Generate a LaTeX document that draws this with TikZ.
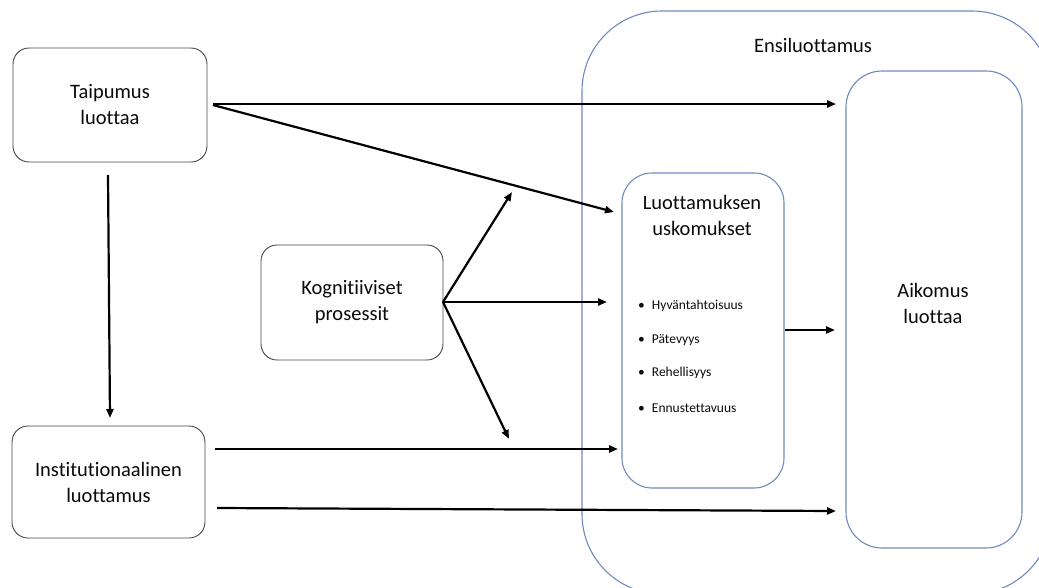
\documentclass[tikz,border=0pt]{standalone}
\usepackage{fontspec}
\setmainfont{Carlito}[Ligatures={NoCommon,NoRare,NoContextual}]
\usetikzlibrary{arrows.meta,calc}
\definecolor{boxblue}{RGB}{110,138,190}
\definecolor{boxgray}{RGB}{70,70,70}
\definecolor{txt}{RGB}{10,10,10}
\begin{document}
\begin{tikzpicture}[x=1pt,y=-1pt,
  graybox/.style={draw=boxgray,line width=0.9pt,rounded corners=16pt,fill=white,inner sep=0pt},
  bluebox/.style={draw=boxblue,line width=1.1pt,inner sep=0pt},
  bigtxt/.style={font=\fontsize{20.5}{26}\selectfont,text=txt,align=center},
  smalltxt/.style={font=\fontsize{13.5}{16}\selectfont,text=txt,anchor=west,inner sep=0pt},
  arr/.style={line width=2.2pt,-{Triangle[length=9pt,width=7pt]}}]
\useasboundingbox (0,0) rectangle (1039,587);
\clip (0,0) rectangle (1039,587);
% outer box
\draw[boxblue,line width=1.1pt,rounded corners=80pt] (582,11) rectangle (1052,594);
\node[bigtxt] (ensi) at (813,45) {Ensiluottamus};
% boxes
\node[graybox,minimum width=194pt,minimum height=114pt] (taip) at (110,105) {};
\node[bigtxt] (taiptxt) at (taip.center) {Taipumus\\luottaa};
\node[graybox,minimum width=193pt,minimum height=112pt] (inst) at (108.5,482) {};
\node[bigtxt] (insttxt) at (inst.center) {Institutionaalinen\\luottamus};
\node[graybox,minimum width=182pt,minimum height=115pt] (kogn) at (352,302.5) {};
\node[bigtxt] (kogntxt) at (kogn.center) {Kognitiiviset\\prosessit};
\node[bluebox,rounded corners=30pt,minimum width=162pt,minimum height=315pt] (usk) at (703,330.5) {};
\node[bigtxt] (usktxt) at (702,215) {Luottamuksen\\uskomukset};
\node[bluebox,rounded corners=36pt,minimum width=176pt,minimum height=477pt] (aik) at (934,309.5) {};
\node[bigtxt] (aiktxt) at (933,303) {Aikomus\\luottaa};
% bullets
\foreach \t/\yy/\nm in {Hyväntahtoisuus/306/b1, Pätevyys/340/b2, Rehellisyys/373/b3, Ennustettavuus/408/b4}{
  \node[smalltxt] (\nm) at (638,\yy) {\textbullet\hspace{7pt}\t};
}
% coordinates for free ends
\coordinate (a1s) at (213,104);
\coordinate (a1e) at (836,104);
\coordinate (a2s) at (213,105);
\coordinate (a2e) at (614,212);
\coordinate (a3s) at (108,175);
\coordinate (a3e) at (110,418);
\coordinate (ks) at (443,302);
\coordinate (k1e) at (512,192);
\coordinate (k2e) at (607,302);
\coordinate (k3e) at (509,439);
\coordinate (i1s) at (215,449);
\coordinate (i1e) at (618,449);
\coordinate (i2s) at (217,508);
\coordinate (i2e) at (836,511);
\coordinate (us) at (785,330);
\coordinate (ue) at (835,330);
% arrows
\draw[arr] (a1s) -- (a1e);
\draw[arr] (a2s) -- (a2e);
\draw[arr] (a3s) -- (a3e);
\draw[arr] (ks) -- (k1e);
\draw[arr] (ks) -- (k2e);
\draw[arr] (ks) -- (k3e);
\draw[arr] (i1s) -- (i1e);
\draw[arr] (i2s) -- (i2e);
\draw[arr] (us) -- (ue);
\end{tikzpicture}
\end{document}
